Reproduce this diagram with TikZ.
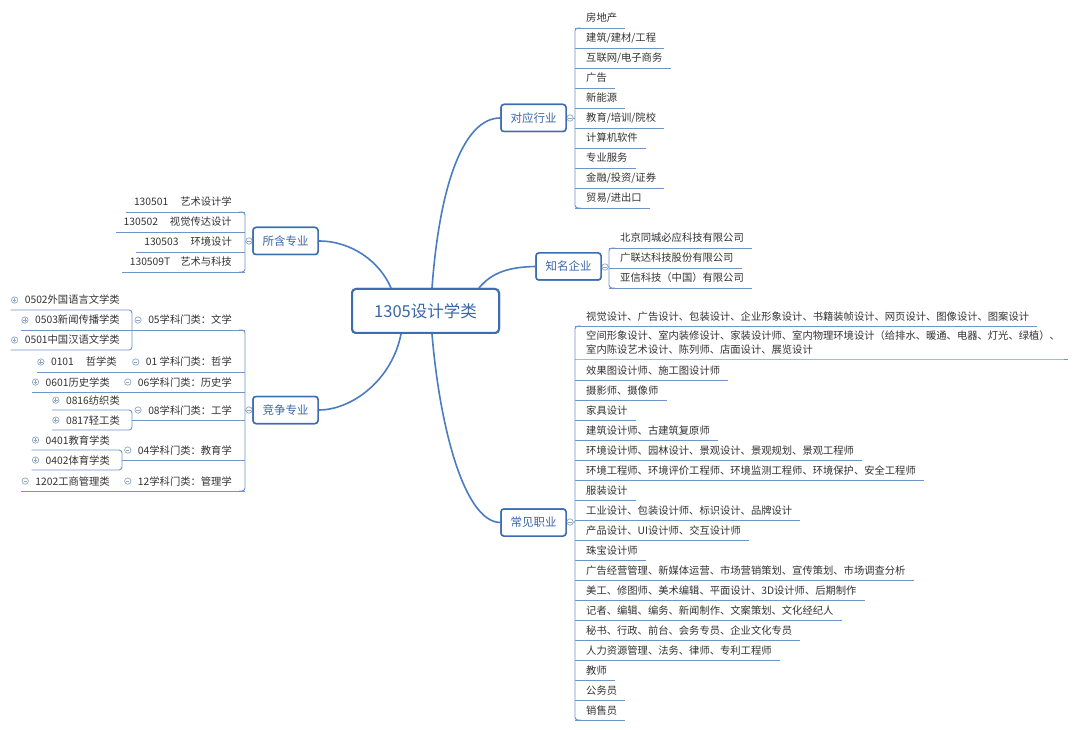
\documentclass[tikz,border=0pt]{standalone}
\usepackage{fontspec}
\setmainfont{Noto Sans CJK SC}
\usetikzlibrary{calc}
\definecolor{mainblue}{HTML}{3C6DB4}
\definecolor{connblue}{HTML}{4A7CC2}
\definecolor{lineblue}{HTML}{6F94C8}
\definecolor{leaftext}{HTML}{333333}
\definecolor{branchtext}{HTML}{3A66A8}
\definecolor{knobcol}{HTML}{8FA7C6}
\newcommand\leaffont{\fontsize{10.3}{14}\selectfont}
\newcommand\branchfont{\fontsize{11.5}{14}\selectfont}
\newcommand\centerfont{\fontsize{16.5}{20}\selectfont}
\tikzset{
  leaf/.style={inner sep=0pt, font=\leaffont, text=leaftext},
  uline/.style={draw=lineblue, line width=0.9pt},
  branchbox/.style={draw=mainblue, line width=1.5pt, rounded corners=3pt, fill=white, text=branchtext, minimum width=65pt, minimum height=27pt, inner sep=0pt, font=\branchfont},
  centerbox/.style={draw=mainblue, line width=2pt, rounded corners=4pt, fill=white, text=branchtext, minimum width=147pt, minimum height=44pt, inner sep=0pt, font=\centerfont},
  conn/.style={draw=connblue, line width=1.6pt},
  knobline/.style={draw=knobcol, line width=0.7pt},
}
\newcommand\knobminus[1]{\draw[knobline,fill=white] (#1) circle (3.2);
  \draw[knobline] ($(#1)+(-1.7,0)$) -- ($(#1)+(1.7,0)$);}
\newcommand\knobplus[1]{\draw[knobline,fill=white] (#1) circle (3.2);
  \draw[knobline] ($(#1)+(-1.7,0)$) -- ($(#1)+(1.7,0)$);
  \draw[knobline] ($(#1)+(0,-1.7)$) -- ($(#1)+(0,1.7)$);}
% right-hand leaf: name, bar x, y, text
\newcommand\rleaf[4]{%
  \node[leaf,anchor=base west] (#1) at (#2+11,#3+4) {#4};
  \draw[uline] (#2,#3+10) -- ($(#1.base east)+(8,6)$);}
% left-hand leaf: name, bar x, y, text
\newcommand\lleaf[4]{%
  \node[leaf,anchor=base east] (#1) at (#2-13,#3+4) {#4};
  \draw[uline] ($(#1.base west)+(-8,6)$) -- (#2,#3+10);}
\begin{document}
\begin{tikzpicture}[x=1pt,y=-1pt]
\useasboundingbox[fill=white] (0,0) rectangle (1080,730);

% ---------- main nodes ----------
\node[centerbox] (ctr) at (425.5,311) {1305设计学类};
\node[branchbox] (b1) at (533.5,118) {对应行业};
\node[branchbox] (b2) at (568.5,266.5) {知名企业};
\node[branchbox] (b3) at (285.5,241) {所含专业};
\node[branchbox] (b4) at (285.5,410) {竞争专业};
\node[branchbox] (b5) at (533.5,522.5) {常见职业};

% ---------- main connectors ----------
\begin{scope}[on background layer/.style={}]
\draw[conn] ($(ctr.north west)+(40,0)$) .. controls (380,262) and (352,241) .. (b3.east);
\draw[conn] ($(ctr.south west)+(50,0)$) .. controls (392,380) and (352,410) .. (b4.east);
\draw[conn] ($(ctr.north west)+(81,0)$) .. controls (440,180) and (465,118) .. (b1.west);
\draw[conn] ($(ctr.north west)+(128,0)$) .. controls (492,272) and (510,267) .. (b2.west);
\draw[conn] ($(ctr.south west)+(81,0)$) .. controls (440,430) and (465,522) .. (b5.west);
\end{scope}
% redraw boxes on top of connector ends
\node[centerbox] at (ctr) {1305设计学类};

% ---------- 对应行业 ----------
\rleaf{i1}{575}{18}{房地产}
\rleaf{i2}{575}{38}{建筑/建材/工程}
\rleaf{i3}{575}{58}{互联网/电子商务}
\rleaf{i4}{575}{78}{广告}
\rleaf{i5}{575}{98}{新能源}
\rleaf{i6}{575}{118}{教育/培训/院校}
\rleaf{i7}{575}{138}{计算机软件}
\rleaf{i8}{575}{158}{专业服务}
\rleaf{i9}{575}{178}{金融/投资/证券}
\rleaf{i10}{575}{198}{贸易/进出口}
\draw[uline,rounded corners=3] (581,28) -- (575,28) -- (575,208) -- (581,208);
\draw[uline] (b1.east) -- (575,118);
\knobminus{570,118}

% ---------- 知名企业 ----------
\rleaf{e1}{609}{238}{北京同城必应科技有限公司}
\rleaf{e2}{609}{258}{广联达科技股份有限公司}
\rleaf{e3}{609}{278}{亚信科技（中国）有限公司}
\draw[uline,rounded corners=3] (615,248) -- (609,248) -- (609,288) -- (615,288);
\draw[uline] (b2.east) -- (609,267);
\knobminus{605,267}

% ---------- 常见职业 ----------
\rleaf{j1}{575}{316}{视觉设计、广告设计、包装设计、企业形象设计、书籍装帧设计、网页设计、图像设计、图案设计}
\node[leaf,anchor=west,align=left] (j2) at (586,343) {空间形象设计、室内装修设计、家装设计师、室内物理环境设计（给排水、暖通、电器、灯光、绿植）、\\室内陈设艺术设计、陈列师、店面设计、展览设计};
\draw[uline] (575,359) -- (j2.east |- 0,359) -- ++(8,0);
\rleaf{j3}{575}{370}{效果图设计师、施工图设计师}
\rleaf{j4}{575}{390}{摄影师、摄像师}
\rleaf{j5}{575}{410}{家具设计}
\rleaf{j6}{575}{430}{建筑设计师、古建筑复原师}
\rleaf{j7}{575}{450}{环境设计师、园林设计、景观设计、景观规划、景观工程师}
\rleaf{j8}{575}{470}{环境工程师、环境评价工程师、环境监测工程师、环境保护、安全工程师}
\rleaf{j9}{575}{490}{服装设计}
\rleaf{j10}{575}{510}{工业设计、包装设计师、标识设计、品牌设计}
\rleaf{j11}{575}{530}{产品设计、UI设计师、交互设计师}
\rleaf{j12}{575}{550}{珠宝设计师}
\rleaf{j13}{575}{570}{广告经营管理、新媒体运营、市场营销策划、宣传策划、市场调查分析}
\rleaf{j14}{575}{590}{美工、修图师、美术编辑、平面设计、3D设计师、后期制作}
\rleaf{j15}{575}{610}{记者、编辑、编务、新闻制作、文案策划、文化经纪人}
\rleaf{j16}{575}{630}{秘书、行政、前台、会务专员、企业文化专员}
\rleaf{j17}{575}{650}{人力资源管理、法务、律师、专利工程师}
\rleaf{j18}{575}{670}{教师}
\rleaf{j19}{575}{690}{公务员}
\rleaf{j20}{575}{710}{销售员}
\draw[uline,rounded corners=3] (581,326) -- (575,326) -- (575,720) -- (581,720);
\draw[uline] (b5.east) -- (575,522);
\knobminus{570,522}

% ---------- 所含专业 ----------
\lleaf{m1}{245}{202}{130501\hspace{12pt}艺术设计学}
\lleaf{m2}{245}{222}{130502\hspace{12pt}视觉传达设计}
\lleaf{m3}{245}{242}{130503\hspace{12pt}环境设计}
\lleaf{m4}{245}{262}{130509T\hspace{10pt}艺术与科技}
\draw[uline,rounded corners=3] (239,212) -- (245,212) -- (245,272) -- (239,272);
\draw[uline] (b3.west) -- (245,241);
\knobminus{249,241}

% ---------- 竞争专业 ----------
\node[leaf,anchor=base east] (c05) at (232,324) {05学科门类：文学};
\node[leaf,anchor=base east] (c01) at (232,366) {01 学科门类：哲学};
\node[leaf,anchor=base east] (c06) at (232,386) {06学科门类：历史学};
\node[leaf,anchor=base east] (c08) at (232,414) {08学科门类：工学};
\node[leaf,anchor=base east] (c04) at (232,454) {04学科门类：教育学};
\node[leaf,anchor=base east] (c12) at (232,485) {12学科门类：管理学};

\node[leaf,anchor=base east] (d0502) at (120,304) {0502外国语言文学类};
\node[leaf,anchor=base east] (d0503) at (120,324) {0503新闻传播学类};
\node[leaf,anchor=base east] (d0501) at (120,344) {0501中国汉语文学类};
\node[leaf,anchor=base east] (d0101) at (117,366) {0101\hspace{12pt}哲学类};
\node[leaf,anchor=base east] (d0601) at (110,386) {0601历史学类};
\node[leaf,anchor=base east] (d0816) at (120,404) {0816纺织类};
\node[leaf,anchor=base east] (d0817) at (120,424) {0817轻工类};
\node[leaf,anchor=base east] (d0401) at (110,444) {0401教育学类};
\node[leaf,anchor=base east] (d0402) at (110,464) {0402体育学类};
\node[leaf,anchor=base east] (d1202) at (110,485) {1202工商管理类};

% lines of the 竞争专业 tree
\draw[uline,rounded corners=3] ($(d0502.base west)+(-14,6)$) -- (132,310) -- (132,350) -- ($(d0501.base west)+(-14,6)$);
\draw[uline] ($(d0503.base west)+(-14,6)$) -- (245,330);
\draw[uline] ($(d0101.base west)+(-14,6)$) -- (245,372);
\draw[uline] ($(d0601.base west)+(-14,6)$) -- (245,392);
\draw[uline,rounded corners=3] ($(d0816.base west)+(-14,6)$) -- (132,410) -- (132,430) -- ($(d0817.base west)+(-14,6)$);
\draw[uline] (132,420) -- (245,420);
\draw[uline,rounded corners=3] ($(d0401.base west)+(-14,6)$) -- (122,450) -- (122,470) -- ($(d0402.base west)+(-14,6)$);
\draw[uline] (122,460) -- (245,460);
\draw[uline] ($(d1202.base west)+(-14,6)$) -- (245,491);
\draw[uline,rounded corners=3] (239,330) -- (245,330) -- (245,491) -- (239,491);
\draw[uline] (b4.west) -- (245,410);
\knobminus{249,410}

% knobs of the 竞争专业 tree
\foreach \n in {c05,c01,c06,c08,c04,c12,d1202}{
  \coordinate (k-\n) at ($(\n.west)+(-10,0)$);
  \knobminus{k-\n}
}
\foreach \n in {d0502,d0503,d0501,d0101,d0601,d0816,d0817,d0401,d0402}{
  \coordinate (k-\n) at ($(\n.west)+(-10,0)$);
  \knobplus{k-\n}
}

% boxes again on top
\node[branchbox] at (b1) {对应行业};
\node[branchbox] at (b2) {知名企业};
\node[branchbox] at (b3) {所含专业};
\node[branchbox] at (b4) {竞争专业};
\node[branchbox] at (b5) {常见职业};
\end{tikzpicture}
\end{document}
